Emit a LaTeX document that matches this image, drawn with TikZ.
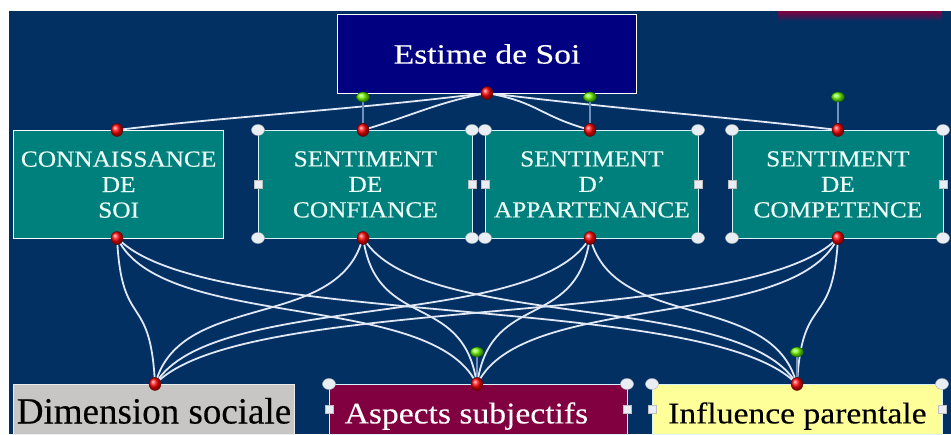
\documentclass[tikz,border=0pt]{standalone}
\usepackage{fontspec}
\setmainfont{Liberation Serif}
\newfontfamily\estfont[FakeStretch=1.2,FakeBold=0.3]{Liberation Serif}
\newfontfamily\widefont[FakeStretch=1.1,FakeBold=0.4]{Liberation Serif}
\newfontfamily\botfont[FakeStretch=1.12,FakeBold=0.3]{Liberation Serif}
\newfontfamily\dimfont[FakeBold=0.3]{Liberation Serif}
\usetikzlibrary{shapes.geometric}
\definecolor{bgnavy}{RGB}{3,48,98}
\definecolor{boxnavy}{RGB}{0,0,128}
\definecolor{tealbox}{RGB}{0,128,124}
\definecolor{maroonbox}{RGB}{128,0,64}
\definecolor{graybox}{RGB}{200,198,196}
\definecolor{yellowbox}{RGB}{255,255,153}
\definecolor{handlefill}{RGB}{232,238,244}
\definecolor{connline}{RGB}{225,232,245}
\definecolor{stemline}{RGB}{112,144,192}
\definecolor{boxtext}{RGB}{236,252,246}
\pgfdeclarelayer{boxlayer}
\pgfdeclarelayer{linelayer}
\pgfsetlayers{boxlayer,linelayer,main}
\tikzset{
  box/.style={rectangle, inner sep=0pt, anchor=north west},
  topbox/.style={box, fill=tealbox, draw=white!85!cyan, line width=0.8pt,
    minimum height=108pt, text=boxtext, align=center,
    font=\widefont\fontsize{23}{25.5}\selectfont},
  botbox/.style={box, text height=39pt, text depth=11pt, minimum height=50pt},
  conn/.style={draw=connline, line width=1.8pt},
  stem/.style={draw=stemline, line width=1.2pt},
  reddot/.style={ellipse, minimum width=12pt, minimum height=13pt, inner sep=0pt,
    ball color=red, draw=red!40!black, line width=0.3pt},
  greendot/.style={ellipse, minimum width=13pt, minimum height=10pt, inner sep=0pt,
    ball color=green!55!yellow, draw=green!40!black, line width=0.3pt},
  handle/.style={ellipse, minimum width=13pt, minimum height=11pt, inner sep=0pt,
    fill=handlefill, draw=gray!60, line width=0.4pt},
  sqhandle/.style={rectangle, minimum size=8pt, inner sep=0pt,
    fill=handlefill, draw=gray!50, line width=0.4pt}
}
\begin{document}
\begin{tikzpicture}[x=1pt,y=-1pt]
\useasboundingbox (0,0) rectangle (951,434);
\begin{pgfonlayer}{boxlayer}
\fill[white] (0,0) rectangle (951,434);
\fill[bgnavy] (9,11) rectangle (951,434);
\shade[top color=maroonbox, bottom color=bgnavy] (778,11) rectangle (942,21);

\node[box, fill=boxnavy, draw=white, line width=1pt, minimum width=299pt,
  minimum height=79pt, text=white, font=\estfont\fontsize{28}{30}\selectfont]
  (estime) at (337,14) {Estime de Soi};

\node[topbox, minimum width=210pt, draw=white, line width=1.3pt] (c1) at (13,130) {CONNAISSANCE\\DE\\SOI};
\node[topbox, minimum width=214pt] (c2) at (258,130) {SENTIMENT\\DE\\CONFIANCE};
\node[topbox, minimum width=213pt] (c3) at (485,130) {SENTIMENT\\D’\\APPARTENANCE};
\node[topbox, minimum width=211pt] (c4) at (732,130) {SENTIMENT\\DE\\COMPETENCE};

\node[botbox, fill=graybox, draw=white!85!gray, line width=1pt, minimum width=281pt,
  text=black, font=\dimfont\fontsize{37}{40}\selectfont] (b1) at (13,384) {Dimension sociale};
\node[botbox, fill=maroonbox, draw=white!85!cyan, line width=0.8pt, minimum width=298pt,
  text=white, font=\botfont\fontsize{30}{32}\selectfont] (b2) at (329,384) {Aspects subjectifs\hspace*{24pt}};
\node[botbox, fill=yellowbox, draw=white!85!cyan, line width=0.8pt, minimum width=290pt,
  text=black, font=\botfont\fontsize{30}{32}\selectfont] (b3) at (652,384) {Influence parentale};
\end{pgfonlayer}

% connection dots
\node[reddot] (er) at (487,93) {};
\node[reddot] (c1t) at (117,130) {};
\node[reddot] (c2t) at (363,130) {};
\node[reddot] (c3t) at (590,130) {};
\node[reddot] (c4t) at (838,130) {};
\node[reddot] (c1b) at (117,238) {};
\node[reddot] (c2b) at (363,238) {};
\node[reddot] (c3b) at (590,238) {};
\node[reddot] (c4b) at (838,238) {};
\node[reddot] (b1t) at (155,384) {};
\node[reddot] (b2t) at (477,384) {};
\node[reddot] (b3t) at (797,384) {};
\node[greendot] (g2) at (363,97) {};
\node[greendot] (g3) at (590,97) {};
\node[greendot] (g4) at (838,97) {};
\node[greendot] (gb2) at (477,352) {};
\node[greendot] (gb3) at (797,352) {};

% connectors
\begin{pgfonlayer}{linelayer}
\draw[conn] (er) .. controls +(-150,18) and +(120,-14) .. (c1t);
\draw[conn] (er) .. controls +(-50,10) and +(50,-15) .. (c2t);
\draw[conn] (er) .. controls +(50,10) and +(-50,-15) .. (c3t);
\draw[conn] (er) .. controls +(150,18) and +(-120,-14) .. (c4t);
\foreach \s/\sx in {c1b/117,c2b/363,c3b/590,c4b/838}{
  \foreach \t/\tx in {b1t/155,b2t/477,b3t/797}{
    \pgfmathsetmacro\dd{0.15*(\tx-\sx)}
    \draw[conn] (\s) .. controls +(\dd,90) and +(-\dd,-90) .. (\t);
  }
}
\draw[stem] (g2) -- (c2t);
\draw[stem] (g3) -- (c3t);
\draw[stem] (g4) -- (c4t);
\draw[stem] (gb2) -- (b2t);
\draw[stem] (gb3) -- (b3t);
\end{pgfonlayer}

% selection handles
\foreach \px/\py [count=\i] in {258/130,472/130,258/238,472/238,
  485/130,698/130,485/238,698/238,732/130,943/130,732/238,943/238,
  329/384,627/384,652/384,942/384}{
  \node[handle] (h\i) at (\px,\py) {};
}
\foreach \px/\py [count=\i] in {258/184,472/184,485/184,698/184,732/184,943/184,
  329/409,627/409,652/409,942/409}{
  \node[sqhandle] (q\i) at (\px,\py) {};
}
\end{tikzpicture}
\end{document}
